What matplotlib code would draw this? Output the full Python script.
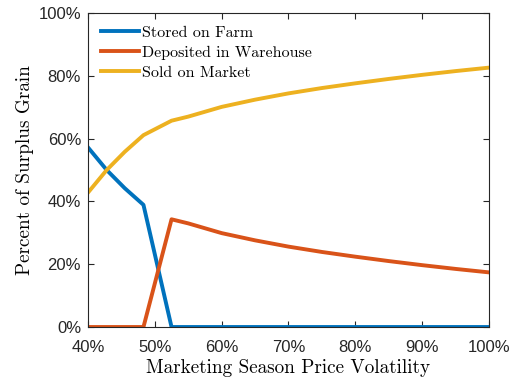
import matplotlib.pyplot as plt
import numpy as np
from matplotlib.ticker import FuncFormatter

# price volatility (%) and shares of surplus grain (%)
volatility = [40, 42.8, 45.5, 48.3, 52.5, 55, 60, 65, 70, 75, 80, 85, 90, 95, 100]
stored = [57.2, 50.0, 44.2, 38.9, 0, 0, 0, 0, 0, 0, 0, 0, 0, 0, 0]
deposited = [0, 0, 0, 0, 34.3, 33.0, 29.9, 27.6, 25.6, 23.9, 22.4, 21.0, 19.7, 18.5, 17.4]
sold = [42.8, 50.0, 55.8, 61.1, 65.7, 67.0, 70.1, 72.4, 74.4, 76.1, 77.6, 79.0, 80.3, 81.5, 82.6]

xticks = [40, 50, 60, 70, 80, 90, 100]
yticks = [0, 20, 40, 60, 80, 100]

fig = plt.figure(figsize=(5.11, 3.81), dpi=100)
ax = fig.add_axes([0.1722, 0.1417, 0.7847, 0.8242])

ax.plot(volatility, stored, color='#0072BD', lw=2.8, label='Stored on Farm')
ax.plot(volatility, deposited, color='#D95319', lw=2.8, label='Deposited in Warehouse')
ax.plot(volatility, sold, color='#EDB120', lw=2.8, label='Sold on Market')

ax.set_xlim(40, 100)
ax.set_ylim(0, 100)
ax.set_xticks(xticks)
ax.set_yticks(yticks)
pct = FuncFormatter(lambda v, p: '%d%%' % v)
ax.xaxis.set_major_formatter(pct)
ax.yaxis.set_major_formatter(pct)
ax.tick_params(direction='in', length=4, width=0.8, top=True, right=True,
               labelsize=12, colors='#262626')
ax.tick_params(axis='x', pad=9)
ax.tick_params(axis='y', pad=5)
for lab in ax.get_xticklabels() + ax.get_yticklabels():
    lab.set_family('Liberation Sans')
for s in ax.spines.values():
    s.set_color('#262626')
    s.set_linewidth(0.8)

ax.set_xlabel('Marketing Season Price Volatility', family='cmr10', fontsize=13.8, labelpad=3)
ax.set_ylabel('Percent of Surplus Grain', family='cmr10', fontsize=13.8, labelpad=3)

leg = ax.legend(loc='upper left', frameon=False, prop={'family': 'cmr10', 'size': 11.5},
                handlelength=2.4, handletextpad=0.2, labelspacing=0.35,
                borderaxespad=0.5, borderpad=0.3)

fig.savefig('out.png', dpi=100)
